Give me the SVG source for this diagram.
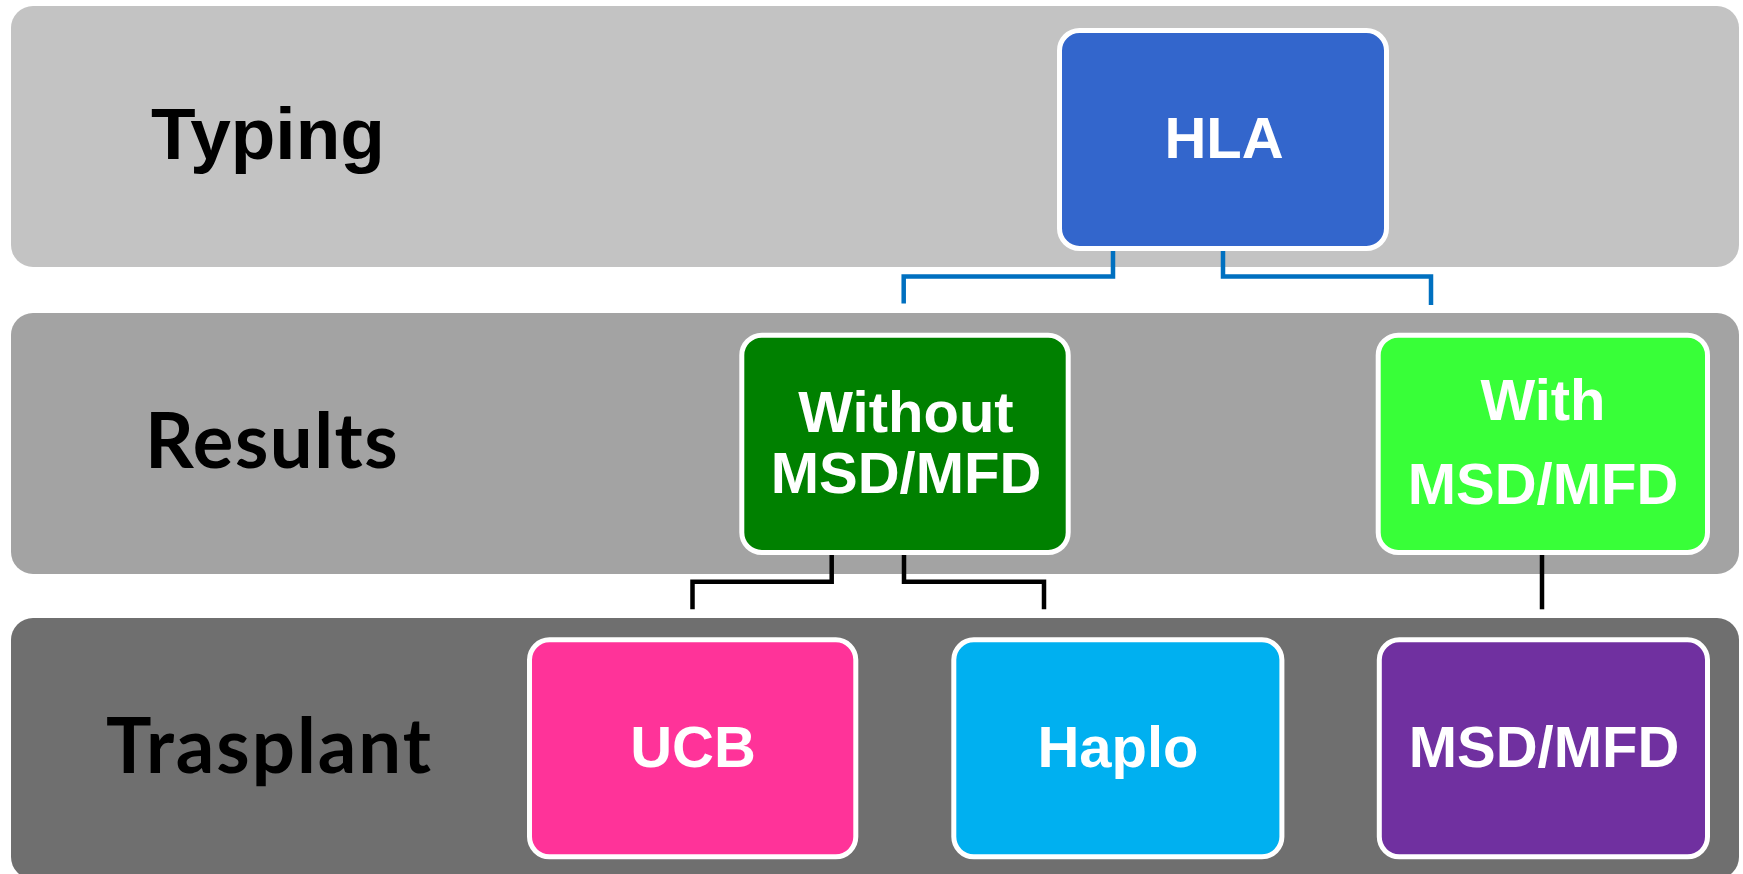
<svg xmlns="http://www.w3.org/2000/svg" width="1743" height="874" viewBox="0 0 1743 874">
<style>
.band{stroke:none}
.node{stroke:#FFFFFF;stroke-width:5}
.lbl{font-family:"Liberation Sans",Arial,sans-serif;font-weight:bold;font-size:58px;fill:#FFFFFF;text-anchor:middle}
.row{font-family:Lato,"Open Sans",sans-serif;font-weight:bold;font-size:76px;fill:#000000}
.conn{fill:none;stroke-width:4.5;stroke-linejoin:miter;stroke-linecap:butt}
</style>
<rect width="1743" height="874" fill="#FFFFFF"/>
<g id="band-typing">
<rect class="band" x="11" y="6" width="1728" height="261" rx="22" fill="#C3C3C3"/>
<text x="151" y="159" style="font-family:'Liberation Sans',Arial,sans-serif;font-weight:bold;font-size:73px;fill:#000">Typing</text>
</g>
<g id="band-results">
<rect class="band" x="11" y="313" width="1728" height="261" rx="22" fill="#A3A3A3"/>
<text class="row" x="145" y="468" letter-spacing="1.5">Results</text>
</g>
<g id="band-trasplant">
<rect class="band" x="11" y="618" width="1728" height="261" rx="22" fill="#6F6F6F"/>
<text class="row" x="106" y="773" letter-spacing="2">Trasplant</text>
</g>
<g id="connectors">
<path class="conn" stroke="#0070C0" d="M1113 251 V276.5 H903.7 V303.5"/>
<path class="conn" stroke="#0070C0" d="M1223 251 V276.5 H1431 V305"/>
<path class="conn" stroke="#000000" d="M831.7 555 V581.7 H692.5 V609.3"/>
<path class="conn" stroke="#000000" d="M904 555 V581.7 H1044 V609.3"/>
<path class="conn" stroke="#000000" d="M1542 555 V609.3"/>
</g>
<g id="node-hla">
<rect class="node" x="1059.5" y="30.5" width="327" height="218" rx="20" fill="#3366CC"/>
<text class="lbl" x="1224" y="158">HLA</text>
</g>
<g id="node-without">
<rect class="node" x="741.8" y="335.2" width="326.4" height="217.3" rx="20" fill="#008000"/>
<text class="lbl" x="906" y="431.7">Without</text>
<text class="lbl" x="906" y="492.7">MSD/MFD</text>
</g>
<g id="node-with">
<rect class="node" x="1378.2" y="335.2" width="329.3" height="217.3" rx="20" fill="#38FF38"/>
<text class="lbl" x="1543" y="420">With</text>
<text class="lbl" x="1543" y="504">MSD/MFD</text>
</g>
<g id="node-ucb">
<rect class="node" x="529.5" y="639.8" width="326.3" height="217" rx="20" fill="#FF3399"/>
<text class="lbl" x="693" y="766.7">UCB</text>
</g>
<g id="node-haplo">
<rect class="node" x="953.8" y="639.8" width="328.1" height="217" rx="20" fill="#00B0F0"/>
<text class="lbl" x="1118" y="766.7">Haplo</text>
</g>
<g id="node-msd">
<rect class="node" x="1379.3" y="639.8" width="328.2" height="217" rx="20" fill="#7030A0"/>
<text class="lbl" x="1544" y="766.7">MSD/MFD</text>
</g>
</svg>
